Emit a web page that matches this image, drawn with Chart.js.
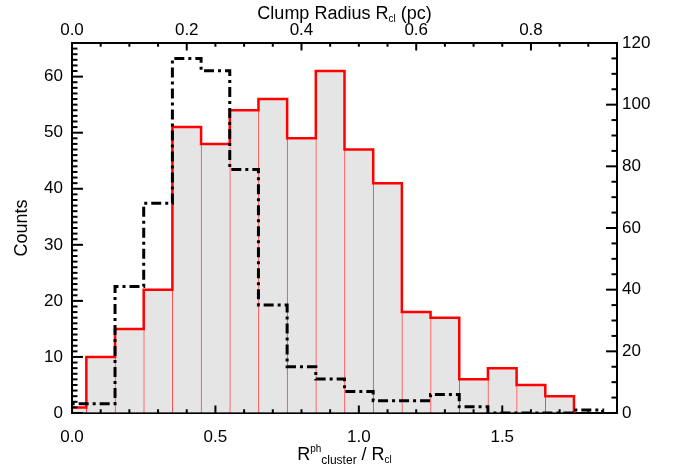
<!DOCTYPE html>
<html>
<head>
<meta charset="utf-8">
<script src="https://cdn.jsdelivr.net/npm/chart.js@4"></script>
<style>
  body { margin: 0; background: #fff; }
  #wrap { width: 676px; height: 468px; }
</style>
</head>
<body>
<div id="wrap"><canvas id="myChart" width="676" height="468"></canvas></div>
<script>
// histogram bins (centres of R_ph_cluster / R_cl bins)
var binCenters = [0.0, 0.1, 0.2, 0.3, 0.4, 0.5, 0.6, 0.7, 0.8, 0.9, 1.0, 1.1, 1.2, 1.3, 1.4, 1.5, 1.6, 1.7, 1.8];
// red histogram, left axis (Counts)
var redCounts = [1, 10, 15, 22, 51, 48, 54, 56, 49, 61, 47, 41, 18, 17, 6, 8, 5, 3];
// black dash-dot histogram, right axis
var blackCounts = [3, 3, 41, 68, 115, 111, 79, 35, 15, 11, 7, 4, 4, 6, 2, 0, 0, 0, 1];
// tick labels
var bottomTicks = [0.0, 0.5, 1.0, 1.5];
var topTicks = [0.0, 0.2, 0.4, 0.6, 0.8];
var leftTicks = [0, 10, 20, 30, 40, 50, 60];
var rightTicks = [0, 20, 40, 60, 80, 100, 120];

var binWidth = binCenters[1] - binCenters[0];

// step outline: one point per left bin edge, plus a drop to zero at the end
function stepPoints(counts) {
    var pts = counts.map(function (v, i) {
        return { x: binCenters[i] - binWidth / 2, y: v };
    });
    var last = binCenters[counts.length - 1] + binWidth / 2;
    pts.push({ x: last, y: counts[counts.length - 1] });
    pts.push({ x: last, y: 0 });
    return pts;
}

var FONT = "'Liberation Sans', Arial, Helvetica, sans-serif";
Chart.defaults.font.family = FONT;
Chart.defaults.font.size = 17;
Chart.defaults.color = '#000';

// inward pointing major / minor tick marks, IDL style
var inwardTicks = {
    id: 'inwardTicks',
    afterDraw: function (chart, args, opts) {
        var ctx = chart.ctx;
        var area = chart.chartArea;
        ctx.save();
        ctx.strokeStyle = '#000';
        ctx.lineWidth = 2;
        for (var id in opts.axes) {
            var a = opts.axes[id];
            var s = chart.scales[id];
            var n = Math.round((s.max - s.min) / a.minor);
            for (var i = 0; i <= n; i++) {
                var v = s.min + i * a.minor;
                var isMajor = Math.abs(v / a.major - Math.round(v / a.major)) < 1e-6;
                var len = isMajor ? a.len : a.len / 2;
                var p = s.getPixelForValue(v);
                ctx.beginPath();
                if (s.position === 'bottom') { ctx.moveTo(p, area.bottom); ctx.lineTo(p, area.bottom - len); }
                if (s.position === 'top') { ctx.moveTo(p, area.top); ctx.lineTo(p, area.top + len); }
                if (s.position === 'left') { ctx.moveTo(area.left, p); ctx.lineTo(area.left + len, p); }
                if (s.position === 'right') { ctx.moveTo(area.right, p); ctx.lineTo(area.right - len, p); }
                ctx.stroke();
            }
        }
        ctx.restore();
    }
};

// axis titles with sub/superscripts
function drawRich(ctx, parts, cx, baseline) {
    var w = 0;
    parts.forEach(function (p) {
        ctx.font = p[1] + 'px ' + FONT;
        w += ctx.measureText(p[0]).width;
    });
    var x = cx - w / 2;
    parts.forEach(function (p) {
        ctx.font = p[1] + 'px ' + FONT;
        ctx.fillText(p[0], x, baseline + p[2]);
        x += ctx.measureText(p[0]).width;
    });
}
var richTitles = {
    id: 'richTitles',
    afterDraw: function (chart) {
        var ctx = chart.ctx;
        var area = chart.chartArea;
        var cx = (area.left + area.right) / 2;
        ctx.save();
        ctx.fillStyle = '#000';
        ctx.textBaseline = 'alphabetic';
        ctx.textAlign = 'left';
        drawRich(ctx, [['Clump Radius R', 18, 0], ['cl', 10, 3], [' (pc)', 18, 0]], cx, 19);
        drawRich(ctx, [['R', 18, 0], ['ph', 10, -8], ['cluster', 12, 4], [' / R', 18, 0], ['cl', 10, 3]], cx, 460);
        ctx.restore();
    }
};

function tickFilter(list, digits) {
    return function (value) {
        for (var i = 0; i < list.length; i++) {
            if (Math.abs(list[i] - value) < 1e-6) return digits ? value.toFixed(digits) : String(value);
        }
        return null;
    };
}

var axisBorder = { display: true, color: '#000', width: 2 };
var noGrid = { drawOnChartArea: false, drawTicks: false, offset: false };

var ctx = document.getElementById('myChart').getContext('2d');
var chart = new Chart(ctx, {
    type: 'bar',
    data: {
        datasets: [
            {
                type: 'line',
                label: 'black',
                data: stepPoints(blackCounts),
                yAxisID: 'y2',
                stepped: 'before',
                borderColor: '#000',
                borderWidth: 3,
                borderDash: [10, 4, 3, 4],
                pointRadius: 0,
                fill: false,
                order: 0
            },
            {
                type: 'line',
                label: 'red outline',
                data: stepPoints(redCounts),
                yAxisID: 'y',
                stepped: 'before',
                borderColor: '#ff0000',
                borderWidth: 2.5,
                pointRadius: 0,
                fill: false,
                order: 1
            },
            {
                type: 'bar',
                label: 'red bars',
                data: redCounts.map(function (v, i) { return { x: binCenters[i], y: v }; }),
                yAxisID: 'y',
                backgroundColor: '#e5e5e5',
                borderColor: 'rgba(255,0,0,0.75)',
                borderWidth: { left: 1, right: 0, top: 0, bottom: 0 },
                borderSkipped: false,
                barPercentage: 1.0,
                categoryPercentage: 1.0,
                order: 2
            }
        ]
    },
    options: {
        responsive: false,
        animation: false,
        layout: { padding: 0 },
        plugins: {
            legend: { display: false },
            tooltip: { enabled: false },
            inwardTicks: {
                axes: {
                    x: { major: 0.5, minor: 0.1, len: 7.5 },
                    x2: { major: 0.2, minor: 0.05, len: 7.5 },
                    y: { major: 10, minor: 1, len: 11 },
                    y2: { major: 20, minor: 5, len: 11 }
                }
            }
        },
        scales: {
            x: {
                type: 'linear',
                position: 'bottom',
                min: 0,
                max: 1.9,
                offset: false,
                grid: noGrid,
                border: axisBorder,
                ticks: { stepSize: 0.1, autoSkip: false, maxRotation: 0, includeBounds: false, padding: 14, callback: tickFilter(bottomTicks, 1) },
                afterFit: function (s) { s.height = 55; }
            },
            x2: {
                type: 'linear',
                position: 'top',
                min: 0,
                max: 0.95,
                offset: false,
                grid: noGrid,
                border: axisBorder,
                ticks: { stepSize: 0.05, autoSkip: false, maxRotation: 0, includeBounds: false, padding: 2, callback: tickFilter(topTicks, 1) },
                afterFit: function (s) { s.height = 43; }
            },
            y: {
                type: 'linear',
                position: 'left',
                min: 0,
                max: 66,
                grid: noGrid,
                border: axisBorder,
                ticks: { stepSize: 10, autoSkip: false, includeBounds: false, padding: 9, callback: tickFilter(leftTicks, 0) },
                title: { display: true, text: 'Counts', font: { size: 18 }, padding: { top: 11, bottom: 0 } },
                afterFit: function (s) { s.width = 72; }
            },
            y2: {
                type: 'linear',
                position: 'right',
                min: 0,
                max: 120,
                grid: noGrid,
                border: axisBorder,
                ticks: { stepSize: 20, autoSkip: false, includeBounds: false, padding: 5, callback: tickFilter(rightTicks, 0) },
                afterFit: function (s) { s.width = 59; }
            }
        }
    },
    plugins: [inwardTicks, richTitles]
});
</script>
</body>
</html>
